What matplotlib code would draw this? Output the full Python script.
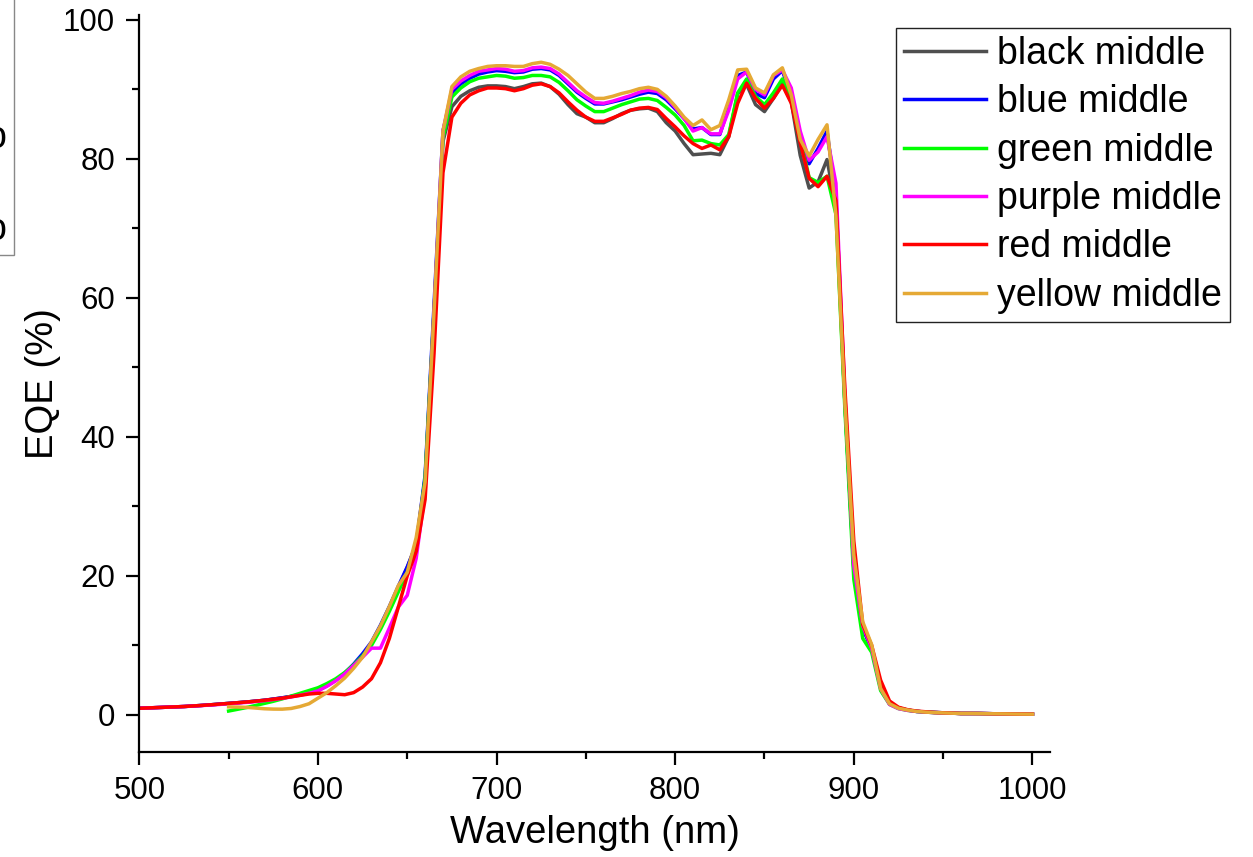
import numpy as np
import matplotlib.pyplot as plt
from matplotlib.ticker import MultipleLocator
from matplotlib.patches import Rectangle

plt.rcParams['font.family'] = ['Liberation Sans', 'DejaVu Sans']

# Wavelength grid (nm), 5 nm steps
wl = np.arange(500, 1001, 5)
wl_550 = wl[wl >= 550]

# EQE (%) for each sample, 500-1000 nm
black = [0.95, 1.00, 1.05, 1.10, 1.15, 1.20, 1.28, 1.36, 1.45, 1.55, 1.65, 1.75, 1.85, 1.97, 2.10, 2.27, 2.45, 2.65, 2.90, 3.20,
         3.50, 4.20, 5.00, 6.00, 7.20, 8.60, 10.3, 12.7, 15.4, 18.3, 21.2, 24.5, 34.0, 58.0, 82.5, 87.5, 89.0, 89.8, 90.3, 90.5,
         90.5, 90.4, 90.1, 90.4, 90.8, 90.9, 90.4, 89.3, 87.8, 86.5, 86.0, 85.2, 85.2, 85.8, 86.5, 87.0, 87.2, 87.3, 86.8, 85.2,
         84.0, 82.2, 80.6, 80.7, 80.8, 80.6, 83.2, 89.4, 90.7, 87.8, 86.8, 88.7, 90.9, 88.2, 80.5, 75.8, 76.7, 79.9, 73.0, 45.0,
         21.0, 12.5, 9.5, 4.0, 1.7, 1.0, 0.7, 0.5, 0.4, 0.35, 0.3, 0.25, 0.2, 0.2, 0.2, 0.18, 0.15, 0.15, 0.12, 0.12, 0.1]
blue = [0.95, 1.00, 1.05, 1.10, 1.15, 1.20, 1.28, 1.36, 1.45, 1.55, 1.65, 1.75, 1.85, 1.97, 2.10, 2.27, 2.45, 2.65, 2.90, 3.20,
        3.50, 4.20, 5.00, 6.00, 7.30, 8.80, 10.5, 12.9, 15.6, 18.5, 21.3, 24.5, 34.5, 59.0, 84.0, 89.5, 90.8, 91.6, 92.2, 92.5,
        92.7, 92.6, 92.4, 92.5, 92.9, 93.0, 92.8, 92.0, 90.8, 89.6, 88.7, 87.9, 87.9, 88.2, 88.5, 88.9, 89.3, 89.6, 89.4, 88.5,
        87.2, 85.8, 84.3, 84.5, 83.5, 83.5, 87.5, 92.0, 92.5, 89.4, 88.8, 91.5, 92.7, 89.0, 83.5, 79.3, 81.5, 84.0, 74.5, 45.0,
        21.0, 12.5, 9.5, 4.0, 1.6, 1.0, 0.7, 0.5, 0.4, 0.35, 0.3, 0.25, 0.2, 0.2, 0.2, 0.18, 0.15, 0.15, 0.12, 0.12, 0.1]
purple = [0.95, 1.00, 1.05, 1.10, 1.15, 1.20, 1.27, 1.34, 1.42, 1.50, 1.60, 1.70, 1.80, 1.92, 2.05, 2.20, 2.38, 2.58, 2.82, 3.10,
          3.45, 4.10, 4.90, 5.90, 7.10, 8.30, 9.60, 9.60, 12.5, 15.5, 17.2, 22.5, 32.0, 58.0, 84.0, 90.0, 91.2, 92.0, 92.6, 92.8,
          93.0, 92.9, 92.6, 92.7, 93.1, 93.2, 93.0, 92.2, 91.0, 89.8, 88.9, 88.1, 88.0, 88.3, 88.7, 89.1, 89.6, 89.9, 89.7, 88.8,
          87.4, 85.8, 84.0, 84.5, 83.6, 83.6, 87.0, 91.5, 92.5, 90.0, 89.2, 92.0, 92.8, 90.2, 84.0, 79.8, 81.0, 83.2, 76.5, 46.0,
          21.5, 12.8, 9.6, 3.8, 1.5, 0.9, 0.65, 0.5, 0.4, 0.33, 0.28, 0.24, 0.2, 0.2, 0.18, 0.16, 0.15, 0.14, 0.12, 0.11, 0.1]
red = [0.95, 1.00, 1.05, 1.10, 1.15, 1.20, 1.28, 1.36, 1.45, 1.55, 1.65, 1.75, 1.85, 1.97, 2.10, 2.25, 2.40, 2.60, 2.80, 3.00,
       3.10, 3.10, 3.00, 2.90, 3.20, 4.00, 5.20, 7.50, 11.0, 15.5, 20.0, 23.5, 31.0, 52.0, 78.0, 86.0, 88.0, 89.2, 89.8, 90.2,
       90.2, 90.1, 89.8, 90.1, 90.6, 90.8, 90.4, 89.5, 88.2, 87.0, 86.0, 85.4, 85.4, 85.9, 86.4, 87.0, 87.3, 87.4, 87.1, 85.8,
       84.6, 83.3, 82.2, 81.5, 82.0, 81.3, 83.2, 88.0, 90.9, 88.7, 87.3, 88.7, 90.6, 88.0, 82.3, 77.2, 76.0, 77.5, 74.0, 47.0,
       25.0, 13.0, 10.0, 5.0, 2.0, 1.1, 0.75, 0.55, 0.45, 0.35, 0.3, 0.25, 0.2, 0.2, 0.2, 0.18, 0.15, 0.15, 0.12, 0.12, 0.1]

# these two start at 550 nm
green = [0.55, 0.80, 1.05, 1.35, 1.65, 1.95, 2.30, 2.70, 3.10, 3.50,
         3.90, 4.50, 5.20, 6.10, 7.20, 8.50, 10.0, 12.3, 14.9, 17.7, 20.5, 24.0, 34.0, 58.0, 83.0, 88.9, 90.2, 91.1, 91.6, 91.8,
         92.0, 91.9, 91.6, 91.7, 92.0, 92.0, 91.8, 91.0, 89.8, 88.5, 87.6, 86.8, 86.8, 87.3, 87.8, 88.2, 88.6, 88.7, 88.4, 87.4,
         86.3, 84.8, 82.6, 82.7, 82.2, 82.0, 83.5, 89.5, 91.5, 89.0, 87.8, 89.5, 91.5, 88.5, 83.0, 77.3, 76.6, 77.5, 72.0, 44.0,
         19.5, 11.0, 9.0, 3.5, 1.5, 0.9, 0.65, 0.5, 0.4, 0.33, 0.28, 0.24, 0.2, 0.2, 0.18, 0.16, 0.15, 0.14, 0.12, 0.11, 0.1]
yellow = [1.15, 1.12, 1.08, 0.98, 0.88, 0.83, 0.82, 0.92, 1.20, 1.60,
          2.40, 3.20, 4.20, 5.30, 6.70, 8.30, 10.5, 12.8, 15.6, 18.6, 20.5, 25.5, 33.5, 58.0, 84.0, 90.4, 91.8, 92.6, 93.0, 93.3,
          93.4, 93.4, 93.3, 93.3, 93.7, 93.9, 93.6, 92.9, 92.0, 90.8, 89.6, 88.7, 88.7, 89.0, 89.4, 89.7, 90.1, 90.3, 90.0, 89.0,
          87.6, 86.0, 84.8, 85.6, 84.2, 84.8, 88.5, 92.8, 92.9, 90.2, 89.5, 92.1, 93.1, 89.2, 82.8, 80.4, 82.8, 84.9, 71.8, 45.0,
          23.0, 13.4, 10.1, 3.8, 1.6, 0.95, 0.7, 0.5, 0.4, 0.33, 0.28, 0.24, 0.2, 0.2, 0.18, 0.16, 0.15, 0.14, 0.12, 0.11, 0.1]

series = [
    (wl, black, '#4f4f4f', 'black middle'),
    (wl, blue, '#0000ff', 'blue middle'),
    (wl_550, green, '#00ff00', 'green middle'),
    (wl, purple, '#ff00ff', 'purple middle'),
    (wl, red, '#ff0000', 'red middle'),
    (wl_550, yellow, '#e5a935', 'yellow middle'),
]

W, H = 1253, 857
fig = plt.figure(figsize=(W / 100, H / 100), dpi=100)
ax = fig.add_axes([139.3 / W, 1 - 751.7 / H, 911.0 / W, 736.7 / H])

for x, y, c, name in series:
    ax.plot(x, y, color=c, lw=2.5, label=name)

ax.set_xlim(500, 1010)
ax.set_ylim(-5.3, 100.7)
ax.xaxis.set_major_locator(MultipleLocator(100))
ax.xaxis.set_minor_locator(MultipleLocator(50))
ax.yaxis.set_major_locator(MultipleLocator(20))
ax.yaxis.set_minor_locator(MultipleLocator(10))

for s in ['top', 'right']:
    ax.spines[s].set_visible(False)
for s in ['left', 'bottom']:
    ax.spines[s].set_linewidth(1.6)

ax.tick_params(which='major', direction='out', length=9.5, width=1.6, labelsize=22.5, pad=8)
ax.tick_params(which='minor', direction='out', length=5, width=1.6)

ax.set_xlabel('Wavelength (nm)', fontsize=27.5)
ax.set_ylabel('EQE (%)', fontsize=27.5)
ax.xaxis.set_label_coords(0.5, -0.086)
ax.yaxis.set_label_coords(-0.086, 0.5)

leg = ax.legend(loc='upper right', bbox_to_anchor=(1230 / W, 1 - 27.7 / H),
                bbox_transform=fig.transFigure, borderaxespad=0,
                fontsize=27, handlelength=2.2, handletextpad=0.28,
                labelspacing=0.33, borderpad=0.22, fancybox=False,
                framealpha=1, edgecolor='#222222')
leg.get_frame().set_linewidth(1.0)

# partly hidden box on the left edge
fig.patches.append(Rectangle((-0.1, 1 - 255 / H), 0.1 + 14 / W, 0.5,
                             transform=fig.transFigure, fill=False,
                             edgecolor='#888888', lw=1.0))
for yb in [148, 240]:
    fig.text(6 / W, 1 - yb / H, 'o', fontsize=27, ha='right', va='baseline')

fig.savefig('out.png', dpi=100)
